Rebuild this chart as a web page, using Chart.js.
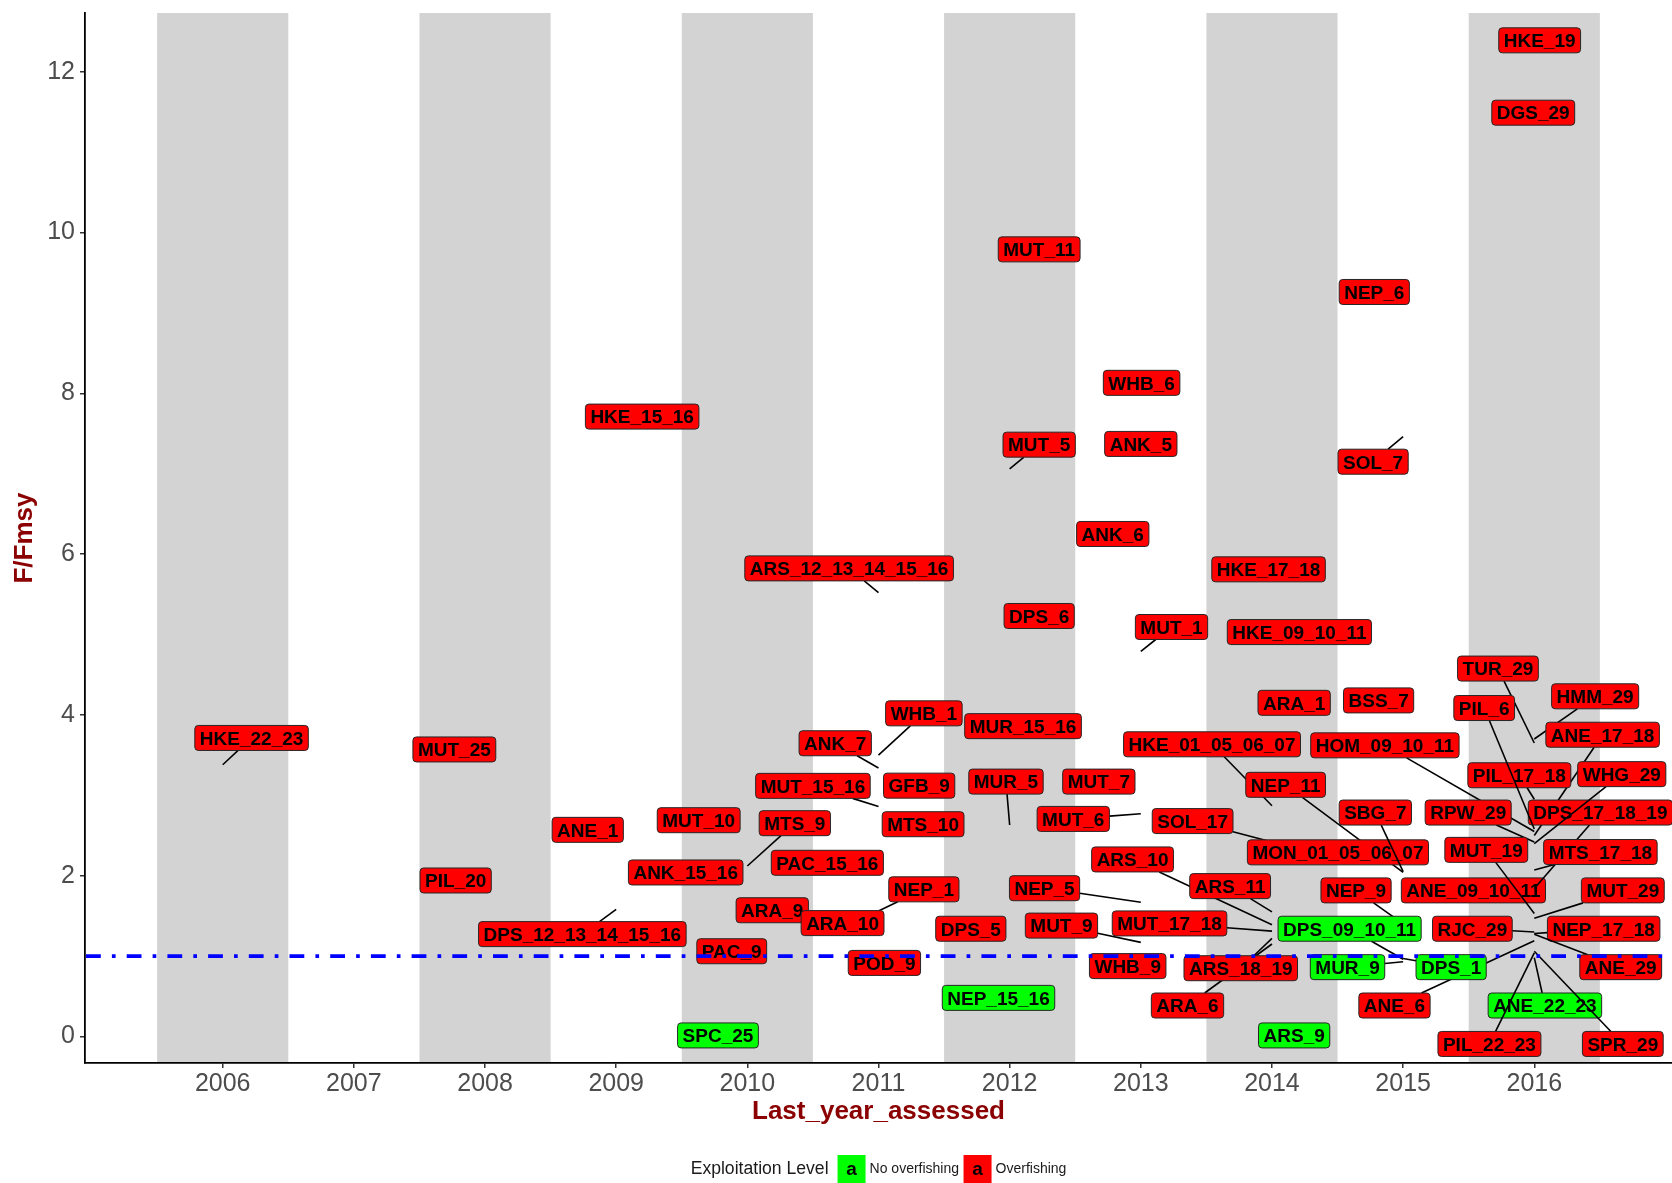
<!DOCTYPE html>
<html lang="en">
<head>
<meta charset="utf-8">
<title>F/Fmsy by last year assessed</title>
<script src="https://cdn.jsdelivr.net/npm/chart.js@4.4.1/dist/chart.umd.min.js"></script>
<style>
  html, body { margin: 0; padding: 0; background: #ffffff; }
  canvas { display: block; }
</style>
</head>
<body>
<canvas id="chart" width="1672" height="1183"></canvas>
<script>
// ---------------- data ----------------
const O = 'Overfishing';
const N = 'No overfishing';

const stockNames = [
  'HKE_22_23', 'MUT_25', 'PIL_20', 'HKE_15_16', 'ANE_1', 'DPS_12_13_14_15_16',
  'MUT_10', 'ANK_15_16', 'MTS_9', 'ARA_9', 'PAC_9', 'SPC_25',
  'ARS_12_13_14_15_16', 'WHB_1', 'ANK_7', 'GFB_9', 'MUT_15_16', 'MTS_10', 'PAC_15_16', 'NEP_1', 'ARA_10', 'POD_9',
  'MUT_11', 'MUT_5', 'DPS_6', 'MUR_15_16', 'MUR_5', 'DPS_5', 'NEP_15_16',
  'WHB_6', 'ANK_5', 'ANK_6', 'MUT_1', 'MUT_7', 'MUT_6', 'NEP_5', 'MUT_9', 'WHB_9',
  'HKE_17_18', 'HKE_09_10_11', 'ARA_1', 'HKE_01_05_06_07', 'NEP_11', 'SOL_17', 'ARS_10', 'ARS_11', 'MUT_17_18', 'ARA_6', 'ARS_18_19', 'ARS_9',
  'NEP_6', 'SOL_7', 'BSS_7', 'MON_01_05_06_07', 'SBG_7', 'NEP_9', 'DPS_09_10_11', 'MUR_9',
  'HKE_19', 'DGS_29', 'TUR_29', 'HMM_29', 'HOM_09_10_11', 'ANE_17_18', 'ANE_09_10_11', 'RPW_29', 'DPS_17_18_19',
  'PIL_17_18', 'WHG_29', 'MTS_17_18', 'MUT_19', 'PIL_6', 'MUT_29', 'RJC_29', 'NEP_17_18', 'ANE_29', 'ANE_6', 'DPS_1',
  'ANE_22_23', 'PIL_22_23', 'SPR_29'
];

const lastYearAssessed = [
  2006, 2008, 2008, 2009, 2009, 2009,
  2010, 2010, 2010, 2010, 2010, 2010,
  2011, 2011, 2011, 2011, 2011, 2011, 2011, 2011, 2011, 2011,
  2012, 2012, 2012, 2012, 2012, 2012, 2012,
  2013, 2013, 2013, 2013, 2013, 2013, 2013, 2013, 2013,
  2014, 2014, 2014, 2014, 2015, 2014, 2014, 2014, 2014, 2014, 2014, 2014,
  2015, 2015, 2015, 2015, 2015, 2015, 2015, 2015,
  2016, 2016, 2016, 2016, 2016, 2016, 2016, 2016, 2016,
  2016, 2016, 2016, 2016, 2016, 2016, 2016, 2016, 2016, 2016, 2015,
  2016, 2016, 2016
];

const fOverFmsy = [
  3.38, 3.57, 1.94, 7.71, 2.57, 1.58,
  2.69, 2.04, 2.12, 1.57, 1.06, 0.05,
  5.52, 3.50, 3.34, 3.12, 2.86, 2.64, 2.16, 1.56, 1.41, 1.05,
  9.79, 7.06, 5.23, 3.86, 2.63, 1.34, 0.48,
  8.13, 7.37, 6.25, 4.79, 3.17, 2.77, 1.67, 1.17, 1.02,
  5.81, 5.03, 4.15, 2.87, 2.04, 2.42, 1.39, 1.55, 1.31, 1.15, 1.22, 0.05,
  9.26, 7.46, 4.18, 2.29, 2.05, 1.40, 0.96, 0.93,
  12.39, 11.49, 3.65, 3.70, 2.55, 2.50, 1.75, 2.42, 1.84,
  2.95, 2.40, 2.07, 1.53, 2.58, 1.47, 1.30, 1.28, 1.27, 1.19, 0.97,
  0.98, 1.04, 1.06
];

const exploitationLevel = [
  O, O, O, O, O, O,
  O, O, O, O, O, N,
  O, O, O, O, O, O, O, O, O, O,
  O, O, O, O, O, O, N,
  O, O, O, O, O, O, O, O, O,
  O, O, O, O, O, O, O, O, O, O, O, N,
  O, O, O, O, O, O, N, N,
  O, O, O, O, O, O, O, O, O,
  O, O, O, O, O, O, O, O, O, O, N,
  N, O, O
];

const levelOrder = [N, O];
const legendTitle = 'Exploitation Level';
const yearTicks = [2006, 2007, 2008, 2009, 2010, 2011, 2012, 2013, 2014, 2015, 2016];
const fTicks = [0, 2, 4, 6, 8, 10, 12];
const shadedFrom = [2005.5, 2007.5, 2009.5, 2011.5, 2013.5, 2015.5];
const shadedTo   = [2006.5, 2008.5, 2010.5, 2012.5, 2014.5, 2016.5];
const fmsyReference = 1;

// ---------------- label placement ----------------
// offset of each label centre from its stock, in axis units (years, F/Fmsy)
const labelNudgeYear = [
  0.22, -0.234, -0.224, 0.198, -0.217, -0.258,
  -0.371, -0.47, 0.362, 0.19, -0.119, -0.224,
  -0.224, 0.346, -0.33, 0.31, -0.5, 0.34, -0.39, 0.346, -0.274, 0.045,
  0.225, 0.225, 0.225, 0.102, -0.028, -0.296, -0.085,
  0.006, 0, -0.214, 0.234, -0.32, -0.515, -0.734, -0.605, -0.1,
  -0.026, 0.209, 0.169, -0.457, -0.896, -0.605, -1.063, -0.319, -0.781, -0.644, -0.238, 0.169,
  -0.22, -0.229, -0.187, -0.497, -0.212, -0.359, -0.408, -0.424,
  0.041, -0.008, -0.277, 0.464, -1.139, 0.521, -0.464, -0.504, 0.504,
  -0.114, 0.667, 0.504, -0.366, -0.382, 0.675, -0.472, 0.529, 0.659, -1.066, 0.366,
  0.081, -0.342, 0.675
];
const labelNudgeF = [
  0.333, 0, 0, 0, 0, -0.307,
  0, 0, 0.533, 0, 0, -0.037,
  0.302, 0.519, 0.307, 0, 0.257, 0, 0, 0.27, 0, -0.135,
  0, 0.301, 0, 0, 0.54, 0, 0,
  0, 0, 0, 0.303, 0, -0.064, 0.174, 0.209, -0.145,
  0, 0, 0, 0.764, 1.09, 0.259, 0.812, 0.32, 0.096, -0.765, -0.371, -0.037,
  0, -0.311, 0, 0, 0.735, 0.417, 0.38, -0.068,
  0, 0, 0.926, 0.531, 1.071, 1.253, 0.067, 0.365, 0.945,
  0.299, 0.863, 0.224, 0.791, 1.505, 0.347, 0.04, 0.06, -0.408, -0.805, -0.108,
  -0.595, -1.133, -1.153
];

// ---------------- styling ----------------
const FONT = '"Liberation Sans", Arial, Helvetica, sans-serif';
const levelFill = { [N]: '#00FF00', [O]: '#FF0000' };
const LABEL_FONT_SIZE = 19;
const LABEL_FONT = `bold ${LABEL_FONT_SIZE}px ${FONT}`;
const LABEL_PAD_X = 5;
const LABEL_H = 25;
const MIN_SEGMENT = 10;

// grey bands behind alternate years
const yearBands = {
  id: 'yearBands',
  beforeDraw(chart) {
    const { ctx, chartArea: a, scales: { x } } = chart;
    ctx.save();
    ctx.fillStyle = '#D3D3D3';
    shadedFrom.forEach((from, i) => {
      const l = x.getPixelForValue(from);
      const r = x.getPixelForValue(shadedTo[i]);
      ctx.fillRect(l, a.top, r - l, a.bottom - a.top);
    });
    ctx.restore();
  }
};

// boxed stock labels with leader segments to their stock position
const stockLabels = {
  id: 'stockLabels',
  afterDatasetsDraw(chart) {
    const { ctx, chartArea: a, scales: { x, y } } = chart;
    ctx.save();
    ctx.beginPath();
    ctx.rect(a.left, a.top, a.right - a.left, a.bottom - a.top);
    ctx.clip();
    ctx.font = LABEL_FONT;
    stockNames.forEach((name, i) => {
      const px = x.getPixelForValue(lastYearAssessed[i]);
      const py = y.getPixelForValue(fOverFmsy[i]);
      const cx = x.getPixelForValue(lastYearAssessed[i] + labelNudgeYear[i]);
      const cy = y.getPixelForValue(fOverFmsy[i] + labelNudgeF[i]);
      const w = ctx.measureText(name).width + 2 * LABEL_PAD_X;
      const h = LABEL_H;
      const inside = Math.abs(px - cx) <= w / 2 && Math.abs(py - cy) <= h / 2;
      if (!inside) {
        const dx = px - cx, dy = py - cy;
        let t = Infinity;
        if (dx !== 0) t = Math.min(t, (w / 2) / Math.abs(dx));
        if (dy !== 0) t = Math.min(t, (h / 2) / Math.abs(dy));
        const sx = cx + dx * t, sy = cy + dy * t;
        if (Math.hypot(px - sx, py - sy) > MIN_SEGMENT) {
          ctx.beginPath();
          ctx.moveTo(sx, sy);
          ctx.lineTo(px, py);
          ctx.strokeStyle = '#000000';
          ctx.lineWidth = 1.6;
          ctx.stroke();
        }
      }
      ctx.beginPath();
      ctx.roundRect(cx - w / 2, cy - h / 2, w, h, 3.5);
      ctx.fillStyle = levelFill[exploitationLevel[i]];
      ctx.fill();
      ctx.strokeStyle = '#262626';
      ctx.lineWidth = 1;
      ctx.stroke();
      ctx.fillStyle = '#000000';
      ctx.textAlign = 'center';
      ctx.textBaseline = 'alphabetic';
      ctx.fillText(name, cx, cy + 0.358 * LABEL_FONT_SIZE);
    });
    ctx.restore();
  }
};

// F = Fmsy reference line, drawn over the labels
const fmsyLine = {
  id: 'fmsyLine',
  afterDatasetsDraw(chart) {
    const { ctx, chartArea: a, scales: { y } } = chart;
    const py = y.getPixelForValue(fmsyReference);
    ctx.save();
    ctx.strokeStyle = '#0000FF';
    ctx.lineWidth = 3.7;
    ctx.lineCap = 'butt';
    ctx.setLineDash([14.8, 11.1, 3.7, 11.1]);
    ctx.beginPath();
    ctx.moveTo(a.left + 1, py);
    ctx.lineTo(a.right, py);
    ctx.stroke();
    ctx.restore();
  }
};

// axis titles and the exploitation-level legend
const titlesAndLegend = {
  id: 'titlesAndLegend',
  afterDraw(chart) {
    const { ctx, chartArea: a } = chart;
    const midX = (a.left + a.right) / 2;
    ctx.save();
    ctx.fillStyle = '#8B0000';
    ctx.font = `bold 26px ${FONT}`;
    ctx.textAlign = 'center';
    ctx.textBaseline = 'middle';
    ctx.fillText('Last_year_assessed', midX, 1112);
    ctx.save();
    ctx.translate(24.5, (a.top + a.bottom) / 2);
    ctx.rotate(-Math.PI / 2);
    ctx.fillText('F/Fmsy', 0, 0);
    ctx.restore();

    // legend
    const titleFont = `17.6px ${FONT}`;
    const itemFont = `14px ${FONT}`;
    const key = 28, gapTitle = 9, gapKey = 4, gapItem = 4.5, midY = 1169;
    ctx.font = titleFont;
    const tw = ctx.measureText(legendTitle).width;
    ctx.font = itemFont;
    const iw = levelOrder.map(s => ctx.measureText(s).width);
    const total = tw + gapTitle + levelOrder.length * (key + gapKey) +
      iw.reduce((s, v) => s + v, 0) + gapItem * (levelOrder.length - 1);
    let xPos = midX - total / 2;
    ctx.textAlign = 'left';
    ctx.textBaseline = 'middle';
    ctx.fillStyle = '#1A1A1A';
    ctx.font = titleFont;
    ctx.fillText(legendTitle, xPos, midY);
    xPos += tw + gapTitle;
    levelOrder.forEach((lvl, i) => {
      ctx.fillStyle = levelFill[lvl];
      ctx.fillRect(xPos, midY - key / 2, key, key);
      ctx.fillStyle = '#000000';
      ctx.font = `bold 19px ${FONT}`;
      ctx.textAlign = 'center';
      ctx.fillText('a', xPos + key / 2, midY + 1);
      xPos += key + gapKey;
      ctx.textAlign = 'left';
      ctx.font = itemFont;
      ctx.fillStyle = '#1A1A1A';
      ctx.fillText(lvl, xPos, midY);
      xPos += iw[i] + gapItem;
    });
    ctx.restore();
  }
};

const datasets = levelOrder.map(lvl => ({
  label: lvl,
  data: stockNames
    .map((s, i) => ({ x: lastYearAssessed[i], y: fOverFmsy[i], lvl: exploitationLevel[i] }))
    .filter(p => p.lvl === lvl),
  pointRadius: 0,
  pointHoverRadius: 0,
  backgroundColor: levelFill[lvl]
}));

const tickFont = { family: FONT, size: 25 };

new Chart(document.getElementById('chart'), {
  type: 'scatter',
  data: { datasets },
  options: {
    responsive: false,
    animation: false,
    events: [],
    layout: { padding: { top: 13, left: 0, right: 0, bottom: 0 } },
    plugins: { legend: { display: false }, tooltip: { enabled: false } },
    scales: {
      x: {
        type: 'linear',
        min: 2004.95,
        max: 2017.05,
        afterBuildTicks: s => { s.ticks = yearTicks.map(v => ({ value: v })); },
        afterFit: s => { s.height = 120; s.paddingLeft = 0; s.paddingRight = 0; },
        grid: { display: true, drawOnChartArea: false, drawTicks: true, tickLength: 5, color: '#333333', lineWidth: 1.5 },
        border: { display: true, color: '#000000', width: 1.8 },
        ticks: { font: tickFont, color: '#4D4D4D', padding: 1, autoSkip: false, maxRotation: 0, callback: v => String(v) }
      },
      y: {
        type: 'linear',
        min: -0.33,
        max: 12.73,
        afterBuildTicks: s => { s.ticks = fTicks.map(v => ({ value: v })); },
        afterFit: s => { s.width = 85; s.paddingTop = 0; s.paddingBottom = 0; },
        grid: { display: true, drawOnChartArea: false, drawTicks: true, tickLength: 5, color: '#333333', lineWidth: 1.5 },
        border: { display: true, color: '#000000', width: 1.8 },
        ticks: { font: tickFont, color: '#4D4D4D', padding: 5, autoSkip: false, callback: v => String(v) }
      }
    }
  },
  plugins: [yearBands, stockLabels, fmsyLine, titlesAndLegend]
});
</script>
</body>
</html>
